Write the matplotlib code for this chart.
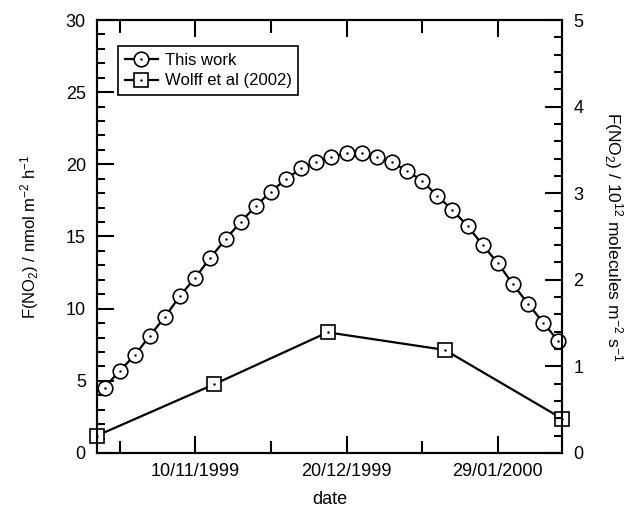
import matplotlib
matplotlib.use("Agg")
import matplotlib.pyplot as plt
import matplotlib.dates as mdates
from matplotlib.ticker import FixedLocator
import pandas as pd

plt.rcParams['font.family'] = ['Liberation Sans', 'DejaVu Sans']
plt.rcParams['mathtext.fontset'] = 'custom'
plt.rcParams['mathtext.rm'] = 'Liberation Sans'
plt.rcParams['mathtext.it'] = 'Liberation Sans:italic'

# dados: este trabalho (cada 4 dias) e Wolff et al (2002) (mensal)
this_dates = pd.date_range('1999-10-17', periods=31, freq='4D')
this_flux = [4.52, 5.70, 6.77, 8.13, 9.44, 10.90, 12.15, 13.53, 14.81, 16.00,
             17.11, 18.11, 18.98, 19.72, 20.16, 20.49, 20.79, 20.79, 20.49, 20.14,
             19.56, 18.85, 17.81, 16.84, 15.73, 14.41, 13.16, 11.69, 10.34, 9.03, 7.76]

wolff_dates = pd.to_datetime(['1999-10-15', '1999-11-15', '1999-12-15',
                              '2000-01-15', '2000-02-15'])
wolff_flux = [1.20, 4.76, 8.36, 7.14, 2.38]

major_dates = pd.to_datetime(['1999-11-10', '1999-12-20', '2000-01-29'])
minor_dates = pd.to_datetime(['1999-10-21', '1999-11-30', '2000-01-09'])

fig = plt.figure(figsize=(6.38, 5.13), dpi=100)
ax = fig.add_axes([0.152, 0.117, 0.729, 0.844])

l1, = ax.plot(this_dates, this_flux, '-', color='black', lw=1.6, marker='o',
              ms=10.5, mfc='white', mec='black', mew=1.2, clip_on=False, zorder=3)
d1, = ax.plot(this_dates, this_flux, ls='none', marker='.', ms=1.5, color='black',
              clip_on=False, zorder=4)
l2, = ax.plot(wolff_dates, wolff_flux, '-', color='black', lw=1.6, marker='s',
              ms=10, mfc='white', mec='black', mew=1.2, clip_on=False, zorder=3)
d2, = ax.plot(wolff_dates, wolff_flux, ls='none', marker='.', ms=1.5, color='black',
              clip_on=False, zorder=4)

ax.set_xlim(pd.Timestamp('1999-10-15'), pd.Timestamp('2000-02-15'))
ax.set_ylim(0, 30)
ax.xaxis.set_major_locator(FixedLocator(mdates.date2num(major_dates)))
ax.xaxis.set_minor_locator(FixedLocator(mdates.date2num(minor_dates)))
ax.xaxis.set_major_formatter(mdates.DateFormatter('%d/%m/%Y'))
ax.set_yticks(range(0, 31, 5))
ax.set_yticks(range(0, 31, 1), minor=True)

ax.tick_params(axis='both', which='both', direction='in', width=1.5, labelsize=13)
ax.tick_params(axis='x', which='both', top=True, pad=7)
ax.tick_params(axis='x', which='major', length=12)
ax.tick_params(axis='x', which='minor', length=9)
ax.tick_params(axis='y', which='major', length=12, pad=8)
ax.tick_params(axis='y', which='minor', length=6)
for s in ax.spines.values():
    s.set_linewidth(1.5)

ax.set_xlabel('date', fontsize=13, labelpad=8)
ax.set_ylabel('F(NO$_2$) / nmol m$^{-2}$ h$^{-1}$', fontsize=12, labelpad=18)

ax2 = ax.twinx()
ax2.set_ylim(0, 5)
ax2.set_yticks(range(0, 6))
ax2.set_yticks([i * 0.2 for i in range(26)], minor=True)
ax2.tick_params(axis='y', which='both', direction='in', width=1.5, labelsize=13)
ax2.tick_params(axis='y', which='major', length=12, pad=8)
ax2.tick_params(axis='y', which='minor', length=6)
for s in ax2.spines.values():
    s.set_linewidth(1.5)
ax2.set_ylabel('F(NO$_2$) / 10$^{12}$ molecules m$^{-2}$ s$^{-1}$', fontsize=12.5,
               rotation=-90, labelpad=30)

leg = ax.legend([(l1, d1), (l2, d2)], ['This work', 'Wolff et al (2002)'],
                loc='upper left', bbox_to_anchor=(0.045, 0.94), borderaxespad=0,
                fontsize=12, handlelength=2.0, handletextpad=0.4, fancybox=False,
                edgecolor='black', framealpha=1, borderpad=0.4, labelspacing=0.35)
leg.get_frame().set_linewidth(1.2)

fig.savefig('out.png', dpi=100)
